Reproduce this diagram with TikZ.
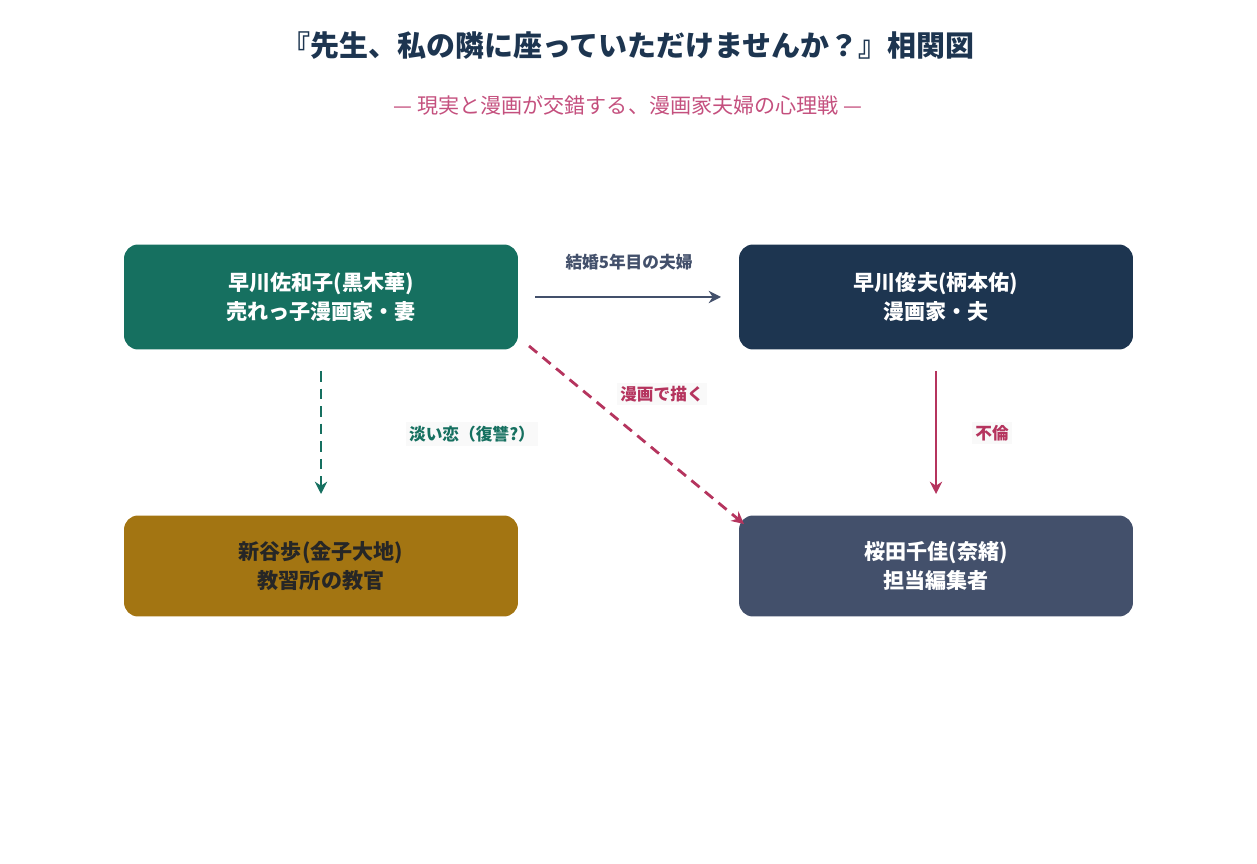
\documentclass[tikz,border=0pt]{standalone}
\usepackage{fontspec}
\setmainfont{Noto Sans CJK JP}
\usetikzlibrary{arrows.meta}
\definecolor{navy}{HTML}{1D3550}
\definecolor{teal}{HTML}{167060}
\definecolor{gold}{HTML}{A37512}
\definecolor{slate}{HTML}{43506B}
\definecolor{crimson}{HTML}{B5345E}
\definecolor{pinksub}{HTML}{C4507E}
\begin{document}
\begin{tikzpicture}[x=0.02cm, y=-0.02cm,
  person/.style={rounded corners=8pt, minimum width=7.88cm, align=center,
    font=\bfseries\fontsize{12}{17}\selectfont},
  rel/.style={line width=1.6pt, -{Stealth[length=7pt,width=7pt]}},
  lbl/.style={font=\bfseries\fontsize{9.5}{11}\selectfont, fill=gray!5, inner sep=2pt}]
  \useasboundingbox (0,0) rectangle (1257,864);

  % title
  \node (title) at (628,46) {\bfseries\fontsize{16.5}{20}\selectfont\color{navy}『先生、私の隣に座っていただけませんか？』相関図};
  \node (sub) at (628,105) {\fontsize{12}{14}\selectfont\color{pinksub}— 現実と漫画が交錯する、漫画家夫婦の心理戦 —};

  % people
  \node[person, fill=teal, text=white, minimum height=2.1cm] (sawako) at (321,297) {早川佐和子(黒木華)\\売れっ子漫画家・妻};
  \node[person, fill=navy, text=white, minimum height=2.1cm] (toshio) at (936,297) {早川俊夫(柄本佑)\\漫画家・夫};
  \node[person, fill=gold, text=black!85, minimum height=2.02cm] (arata) at (321,566) {新谷歩(金子大地)\\教習所の教官};
  \node[person, fill=slate, text=white, minimum height=2.02cm] (chika) at (936,566) {桜田千佳(奈緒)\\担当編集者};

  % arrow ends
  \coordinate (a0) at (535,297); \coordinate (a1) at (721,297);
  \coordinate (b0) at (321,371); \coordinate (b1) at (321,494);
  \coordinate (c0) at (529,346); \coordinate (c1) at (744,524);
  \coordinate (d0) at (936,371); \coordinate (d1) at (936,494);

  \draw[rel, slate] (a0) -- (a1);
  \draw[rel, teal, dash pattern=on 6pt off 4pt] (b0) -- (b1);
  \draw[rel, crimson, dash pattern=on 6pt off 4pt] (c0) -- (c1);
  \draw[rel, crimson] (d0) -- (d1);

  \node[lbl, text=slate, fill=none] (marry) at (629,262) {結婚5年目の夫婦};
  \node[lbl, text=teal] (love) at (472,434) {淡い恋（復讐?）};
  \node[lbl, text=crimson] (draw) at (662,394) {漫画で描く};
  \node[lbl, text=crimson] (affair) at (992,433) {不倫};
\end{tikzpicture}
\end{document}
